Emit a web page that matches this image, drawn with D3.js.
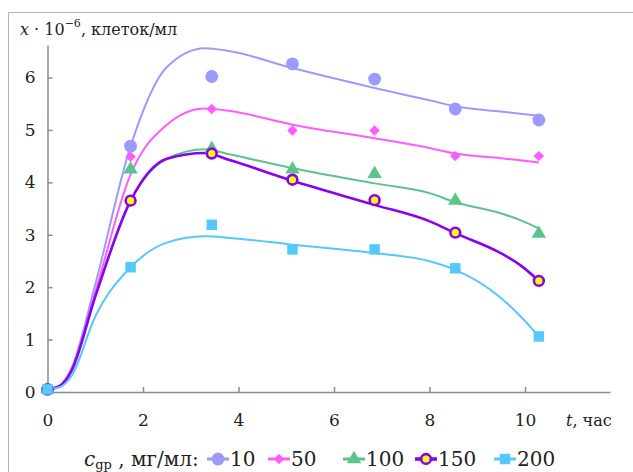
<!DOCTYPE html>
<html lang="ru">
<head>
<meta charset="utf-8">
<title>Рост клеток</title>
<style>
  body { margin: 0; background: #fff; }
  svg { display: block; }
  .axis path, .axis line { stroke: #8c8c8c; stroke-width: 1.5; }
  .axis text { font-size: 17px; fill: #222; }
</style>
<script src="https://cdn.jsdelivr.net/npm/d3@7"></script>
</head>
<body>
<script>
// observed points
var tObs = [0, 1.74, 3.44, 5.13, 6.85, 8.54, 10.29];
var obs10  = [0.05, 4.69, 6.02, 6.26, 5.97, 5.40, 5.19];
var obs50  = [0.05, 4.49, 5.40, 4.99, 4.99, 4.50, 4.50];
var obs100 = [0.05, 4.25, 4.64, 4.25, 4.16, 3.65, 3.02];
var obs150 = [0.05, 3.65, 4.55, 4.05, 3.66, 3.04, 2.12];
var obs200 = [0.05, 2.38, 3.19, 2.72, 2.72, 2.36, 1.06];

// model curves
var tFit   = [0, 0.25, 0.5, 1, 1.74, 2.5, 3.3, 3.83, 5.13, 6.85, 8.02, 8.54, 9.49, 9.9, 10.29];
var fit10  = [0.05, 0.12, 0.45, 2.05, 4.69, 6.2, 6.56, 6.50, 6.18, 5.80, 5.56, 5.45, 5.35, 5.31, 5.27];
var fit50  = [0.05, 0.11, 0.42, 1.9, 4.15, 5.1, 5.41, 5.36, 5.10, 4.84, 4.65, 4.55, 4.46, 4.42, 4.38];
var fit100 = [0.05, 0.11, 0.4, 1.82, 3.65, 4.45, 4.63, 4.53, 4.27, 3.98, 3.79, 3.62, 3.41, 3.28, 3.12];
var fit150 = [0.05, 0.11, 0.4, 1.82, 3.65, 4.45, 4.56, 4.42, 4.03, 3.57, 3.25, 3.03, 2.65, 2.42, 2.12];
var fit200 = [0.05, 0.09, 0.3, 1.44, 2.38, 2.85, 2.97, 2.94, 2.81, 2.65, 2.49, 2.33, 1.80, 1.45, 1.06];

var concs = ["10", "50", "100", "150", "200"];
var xTicks = [0, 2, 4, 6, 8, 10];
var yTicks = [0, 1, 2, 3, 4, 5, 6];

var series = [
  {name: concs[0], obs: obs10,  fit: fit10,  color: "#9b9bff", sym: d3.symbolCircle,   size: 130, lw: 2},
  {name: concs[1], obs: obs50,  fit: fit50,  color: "#ff5cff", sym: d3.symbolDiamond2, size: 70,  lw: 2},
  {name: concs[2], obs: obs100, fit: fit100, color: "#5cc48a", sym: d3.symbolTriangle, size: 90,  lw: 2},
  {name: concs[3], obs: obs150, fit: fit150, color: "#8a00f0", sym: d3.symbolCircle,   size: 75,  lw: 2.6, fill: "#ffff00"},
  {name: concs[4], obs: obs200, fit: fit200, color: "#55c8ff", sym: d3.symbolSquare,   size: 110, lw: 2}
];

var W = 633, H = 472;
var serif = "'DejaVu Serif', 'Liberation Serif', serif";
var svg = d3.select("body").append("svg").attr("width", W).attr("height", H)
  .attr("font-family", serif);

// outer frame
svg.append("rect").attr("x", 8.5).attr("y", 12.5).attr("width", 660).attr("height", 500)
  .attr("fill", "none").attr("stroke", "#b5b5b5").attr("stroke-width", 1);

var x = d3.scaleLinear().domain([0, 11.78]).range([47.5, 610]);
var y = d3.scaleLinear().domain([0, 6.62]).range([392, 45]);

var xAxis = svg.append("g").attr("class", "axis").attr("transform", "translate(0,392)")
  .call(d3.axisBottom(x).tickValues(xTicks).tickFormat(d3.format("d"))
    .tickSizeInner(-5).tickSizeOuter(0).tickPadding(22));
var yAxis = svg.append("g").attr("class", "axis").attr("transform", "translate(47.5,0)")
  .call(d3.axisLeft(y).tickValues(yTicks).tickFormat(d3.format("d"))
    .tickSizeInner(-5).tickSizeOuter(0).tickPadding(12));
svg.selectAll(".axis").attr("font-family", serif);

// axis titles
var yl = svg.append("text").attr("x", 20).attr("y", 35).attr("font-size", 16).attr("fill", "#222");
yl.append("tspan").attr("font-style", "italic").text("x");
yl.append("tspan").text(" · 10");
yl.append("tspan").attr("font-size", 11).attr("dy", -8).text("−6");
yl.append("tspan").attr("dy", 8).text(", клеток/мл");

var xl = svg.append("text").attr("x", 566).attr("y", 426).attr("font-size", 16).attr("fill", "#222");
xl.append("tspan").attr("font-style", "italic").text("t");
xl.append("tspan").text(", час");

var line = d3.line().curve(d3.curveMonotoneX)
  .x(function(d) { return x(d[0]); })
  .y(function(d) { return y(d[1]); });

series.forEach(function(s) {
  svg.append("path")
    .datum(tFit.map(function(t, i) { return [t, s.fit[i]]; }))
    .attr("d", line)
    .attr("fill", "none")
    .attr("stroke", s.color)
    .attr("stroke-width", s.lw);
});

function marker(g, s) {
  g.append("path")
    .attr("d", d3.symbol().type(s.sym).size(s.size))
    .attr("fill", s.fill || s.color)
    .attr("stroke", s.fill ? s.color : "none")
    .attr("stroke-width", s.fill ? 2.6 : 0);
}

series.forEach(function(s) {
  tObs.forEach(function(t, i) {
    var g = svg.append("g").attr("transform", "translate(" + x(t) + "," + y(s.obs[i]) + ")");
    marker(g, s);
  });
});

// legend
var lg = svg.append("g").attr("font-size", 20).attr("fill", "#222");
var lt = lg.append("text").attr("x", 84).attr("y", 466);
lt.append("tspan").attr("font-style", "italic").text("c");
lt.append("tspan").attr("font-size", 13).attr("dy", 3).text("gp");
lt.append("tspan").attr("dy", -3).text(" , мг/мл:");

var legX = [207, 268, 343, 415, 494];
series.forEach(function(s, i) {
  var g = lg.append("g").attr("transform", "translate(" + legX[i] + ",459)");
  g.append("line").attr("x1", 0).attr("x2", 22).attr("stroke", s.color).attr("stroke-width", s.lw + 1);
  var m = g.append("g").attr("transform", "translate(11,0)");
  marker(m, s);
  g.append("text").attr("x", 23).attr("y", 7).text(s.name);
});
</script>
</body>
</html>
